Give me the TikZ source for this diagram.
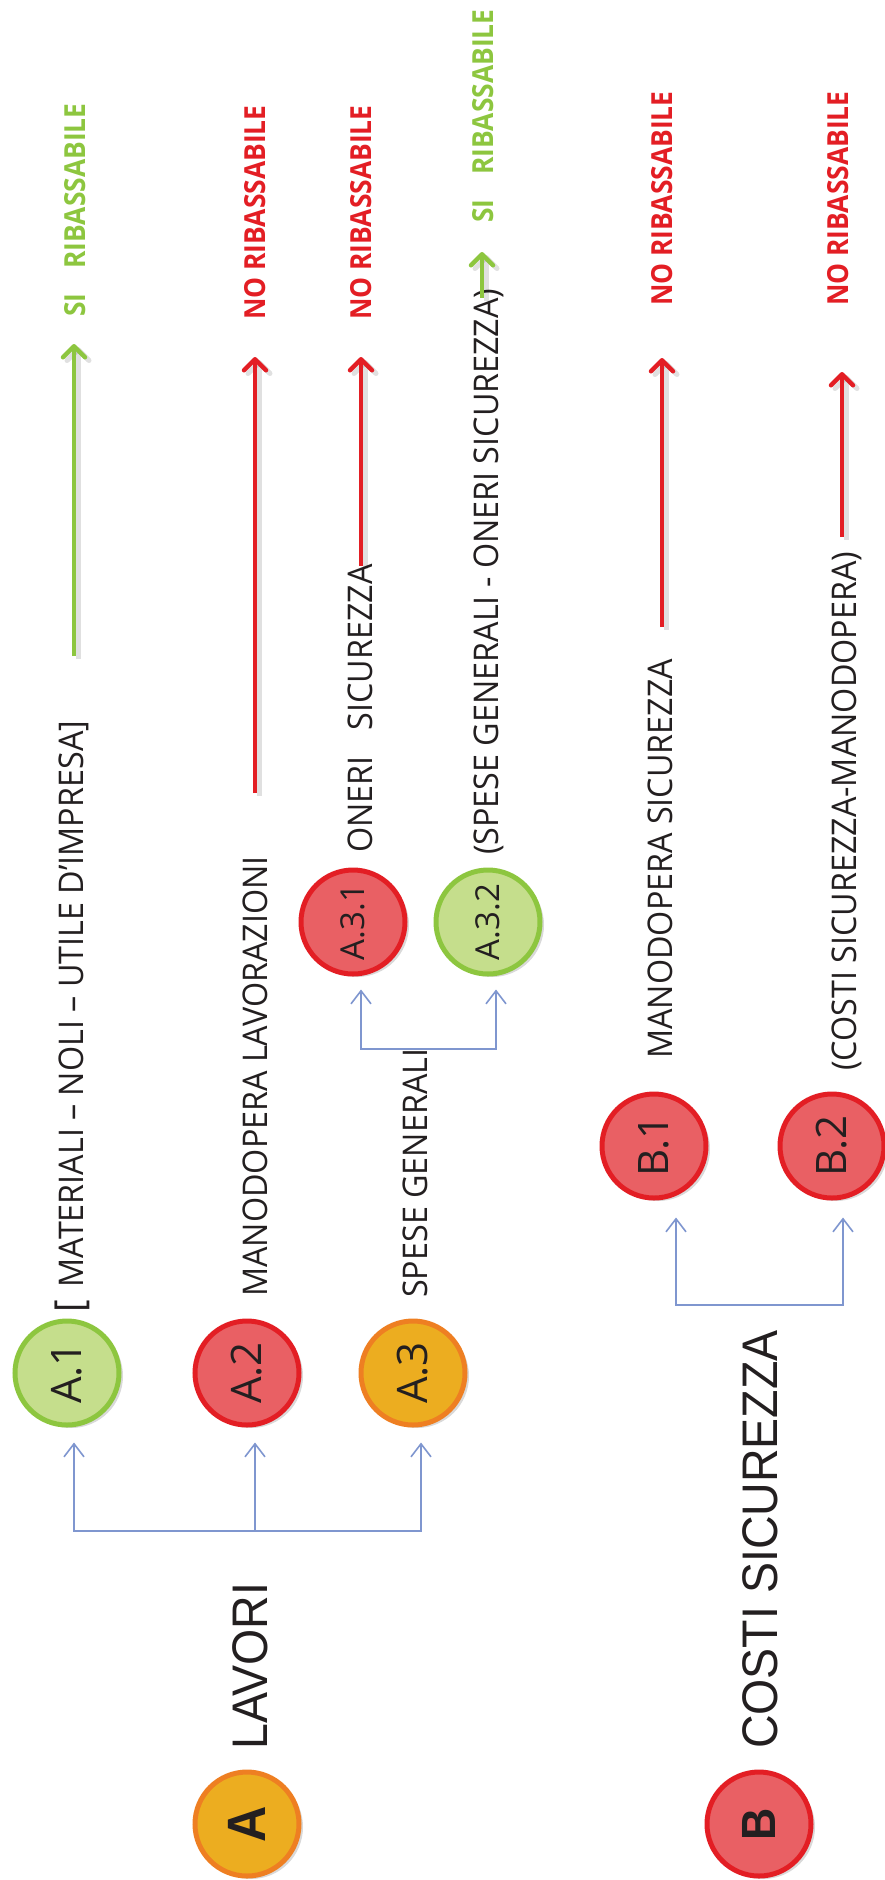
\documentclass[tikz,border=0pt]{standalone}
\usepackage{fontspec}
\usepackage{graphicx}
\usetikzlibrary{arrows.meta,shadows}
\newfontfamily\descfont[FakeStretch=0.95]{Open Sans}
\newfontfamily\circfont{Open Sans}
\newfontfamily\labfont[FakeStretch=0.91]{Open Sans}
\newfontfamily\titfont[FakeStretch=0.93]{Liberation Sans}
\definecolor{rborder}{HTML}{E31E24}
\definecolor{rfill}{HTML}{E96064}
\definecolor{gborder}{HTML}{8DC63F}
\definecolor{gfill}{HTML}{C5DE8C}
\definecolor{oborder}{HTML}{EE7F22}
\definecolor{ofill}{HTML}{ECAD20}
\definecolor{conn}{HTML}{7F96CF}
\definecolor{dark}{HTML}{231F20}
\begin{document}
\begin{tikzpicture}[x=1pt,y=-1pt,
  circ/.style={circle, minimum size=104pt, inner sep=0pt, line width=5pt, text=dark,
    drop shadow={shadow xshift=4pt, shadow yshift=-3pt, opacity=0.3}},
  gc/.style={circ, draw=gborder, fill=gfill},
  rc/.style={circ, draw=rborder, fill=rfill},
  oc/.style={circ, draw=oborder, fill=ofill},
  clab/.style={font=\circfont\fontsize{42}{42}\selectfont},
  csub/.style={font=\circfont\fontsize{33}{33}\selectfont},
  bigl/.style={font=\titfont\bfseries\fontsize{54}{54}\selectfont},
  desc/.style={rotate=90, anchor=base west, inner sep=0pt, text=dark,
    font=\descfont\fontsize{34}{34}\selectfont},
  lab/.style={rotate=90, anchor=base west, inner sep=0pt,
    font=\labfont\bfseries\fontsize{29}{29}\selectfont},
  ttl/.style={rotate=90, anchor=base west, inner sep=0pt, text=dark,
    font=\titfont\fontsize{50}{50}\selectfont},
  bl/.style={draw=conn, line width=1.6pt, -{Straight Barb[length=13pt,width=20pt]}},
  arr/.style={line width=4.5pt, -{Straight Barb[length=11pt,width=22pt,round]}},
  shad/.style={draw=black, opacity=0.12, line width=5pt,
    -{Straight Barb[length=11pt,width=22pt,round]},
    transform canvas={xshift=4pt,yshift=-3pt}}
]
\useasboundingbox (0,0) rectangle (885,1880);

% circles
\node[oc, bigl] (A) at (247,1824) {\rotatebox{90}{A}};
\node[rc, bigl, font=\titfont\bfseries\fontsize{48}{48}\selectfont] (B) at (759,1824) {\rotatebox{90}{B}};
\node[gc, clab] (a1) at (67,1373) {\rotatebox{90}{A.1}};
\node[rc, clab] (a2) at (247,1373) {\rotatebox{90}{A.2}};
\node[oc, clab] (a3) at (413,1373) {\rotatebox{90}{A.3}};
\node[rc, csub] (a31) at (353,922) {\rotatebox{90}{A.3.1}};
\node[gc, csub] (a32) at (488,922) {\rotatebox{90}{A.3.2}};
\node[rc, clab] (b1) at (654,1146) {\rotatebox{90}{B.1}};
\node[rc, clab] (b2) at (832,1146) {\rotatebox{90}{B.2}};

% titles
\node[ttl] (tA) at (267,1750) {LAVORI};
\node[ttl] (tB) at (777,1749) {COSTI SICUREZZA};

% descriptions
\node[desc] (d1) at (83,1313) {{\fontsize{40}{40}\selectfont[}\hspace{13pt}MATERIALI – NOLI – UTILE D’IMPRESA]};
\node[desc] (d2) at (267,1297) {MANODOPERA LAVORAZIONI};
\node[desc] (d3) at (427,1298) {SPESE GENERALI};
\node[desc] (d31) at (372,853) {ONERI\hspace{26pt}SICUREZZA};
\node[desc] (d32) at (498,855) {(SPESE GENERALI - ONERI SICUREZZA)};
\node[desc] (db1) at (672,1059) {MANODOPERA SICUREZZA};
\node[desc] (db2) at (856,1071) {(COSTI SICUREZZA-MANODOPERA)};

% labels
\node[lab, text=gborder] (l1) at (85,317) {SI\hspace{25pt}RIBASSABILE};
\node[lab, text=rborder] (l2) at (265,320) {NO RIBASSABILE};
\node[lab, text=rborder] (l31) at (371,320) {NO RIBASSABILE};
\node[lab, text=gborder] (l32) at (493,223) {SI\hspace{25pt}RIBASSABILE};
\node[lab, text=rborder] (lb1) at (672,306) {NO RIBASSABILE};
\node[lab, text=rborder] (lb2) at (848,306) {NO RIBASSABILE};

% blue brackets
\coordinate (abm) at (255,1531);
\draw[bl] (abm) -| ([xshift=7pt,yshift=-15pt]a1.south);
\draw[bl] (abm) -- ([xshift=8pt,yshift=-15pt]a2.south);
\draw[bl] (abm) -| ([xshift=8pt,yshift=-15pt]a3.south);
\coordinate (sbm) at (428,1049);
\draw[bl] (sbm) -| ([xshift=8pt,yshift=-13pt]a31.south);
\draw[bl] (sbm) -| ([xshift=8pt,yshift=-13pt]a32.south);
\coordinate (bbm) at (760,1305);
\draw[bl] (bbm) -| ([xshift=22pt,yshift=-17pt]b1.south);
\draw[bl] (bbm) -| ([xshift=11pt,yshift=-17pt]b2.south);

% coloured arrows
\coordinate (a1s) at (74,656);   \coordinate (a1e) at (74,344);
\coordinate (a2s) at (255,793);  \coordinate (a2e) at (255,357);
\coordinate (a31s) at (361,566); \coordinate (a31e) at (361,357);
\coordinate (a32s) at (482,298); \coordinate (a32e) at (482,252);
\coordinate (b1s) at (662,627);  \coordinate (b1e) at (662,358);
\coordinate (b2s) at (842,537);  \coordinate (b2e) at (842,372);
\foreach \s/\e/\c in {a1s/a1e/gborder, a2s/a2e/rborder, a31s/a31e/rborder,
    a32s/a32e/gborder, b1s/b1e/rborder, b2s/b2e/rborder}{
  \draw[shad] (\s) -- (\e);
  \draw[arr, draw=\c] (\s) -- (\e);
}
\end{tikzpicture}
\end{document}
